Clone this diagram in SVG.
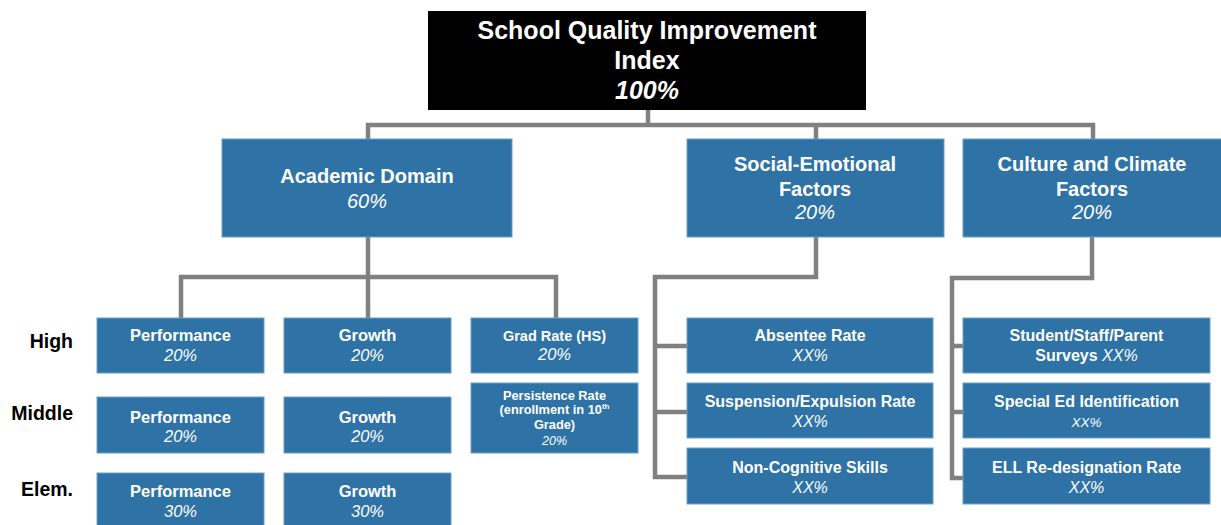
<svg xmlns="http://www.w3.org/2000/svg" width="1221" height="525" viewBox="0 0 1221 525">
<style>
text{font-family:"Liberation Sans",Arial,sans-serif;text-anchor:middle;fill:#fff}
.b{font-weight:bold}
.i{font-style:italic}
.box{fill:#2e72a6;stroke:#6d9fc8;stroke-width:1}
.lbl{fill:#000;font-weight:bold;font-size:19.5px;text-anchor:end}
.conn{fill:none;stroke:#808080;stroke-width:4.5;stroke-linejoin:miter}
</style>
<rect width="1221" height="525" fill="#fff"/>
<g id="connectors">
<path class="conn" d="M648 110V125M368 139V125H1093V139M816 125V139"/>
<path class="conn" d="M368 237V277M181 318V277H556V318M368 277V318"/>
<path class="conn" d="M816 237V277H655V477H687M655 346H687M655 412H687"/>
<path class="conn" d="M1092 237V278H952V478H963M952 346H963M952 412H963"/>
</g>
<g id="root">
<rect x="428" y="11" width="438" height="99" fill="#000"/>
<text x="647" y="39" class="b" font-size="25">School Quality Improvement</text>
<text x="647" y="69" class="b" font-size="25">Index</text>
<text x="647" y="99" class="b i" font-size="25">100%</text>
</g>
<g id="academic">
<rect class="box" x="222" y="139" width="290" height="98"/>
<text x="367" y="183" class="b" font-size="20">Academic Domain</text>
<text x="367" y="208" class="i" font-size="20">60%</text>
</g>
<g id="social">
<rect class="box" x="687" y="139" width="257" height="98"/>
<text x="815" y="171" class="b" font-size="20">Social-Emotional</text>
<text x="815" y="196" class="b" font-size="20">Factors</text>
<text x="815" y="219" class="i" font-size="20">20%</text>
</g>
<g id="culture">
<rect class="box" x="963" y="139" width="262" height="98"/>
<text x="1092" y="171" class="b" font-size="20">Culture and Climate</text>
<text x="1092" y="196" class="b" font-size="20">Factors</text>
<text x="1092" y="219" class="i" font-size="20">20%</text>
</g>
<g id="labels">
<text x="73" y="348" class="lbl">High</text>
<text x="73" y="420" class="lbl">Middle</text>
<text x="73" y="496" class="lbl">Elem.</text>
</g>
<g id="perf-high">
<rect class="box" x="97" y="318" width="167" height="55"/>
<text x="180.5" y="341" class="b" font-size="16.5">Performance</text>
<text x="180.5" y="361" class="i" font-size="16.5">20%</text>
</g>
<g id="growth-high">
<rect class="box" x="284" y="318" width="167" height="55"/>
<text x="367.5" y="341" class="b" font-size="16.5">Growth</text>
<text x="367.5" y="361" class="i" font-size="16.5">20%</text>
</g>
<g id="grad-rate">
<rect class="box" x="471" y="318" width="167" height="55"/>
<text x="554.5" y="341" class="b" font-size="14.5">Grad Rate (HS)</text>
<text x="554.5" y="360" class="i" font-size="16.5">20%</text>
</g>
<g id="perf-middle">
<rect class="box" x="97" y="397" width="167" height="56"/>
<text x="180.5" y="423" class="b" font-size="16.5">Performance</text>
<text x="180.5" y="442" class="i" font-size="16.5">20%</text>
</g>
<g id="growth-middle">
<rect class="box" x="284" y="397" width="167" height="56"/>
<text x="367.5" y="423" class="b" font-size="16.5">Growth</text>
<text x="367.5" y="442" class="i" font-size="16.5">20%</text>
</g>
<g id="persistence">
<rect class="box" x="471" y="383" width="167" height="70"/>
<text x="554.5" y="400" class="b" font-size="12.8">Persistence Rate</text>
<text x="554.5" y="414" class="b" font-size="12.8">(enrollment in 10<tspan font-size="8" dy="-5">th</tspan></text>
<text x="554.5" y="429" class="b" font-size="12.8">Grade)</text>
<text x="554.5" y="445" class="i" font-size="12.5">20%</text>
</g>
<g id="perf-elem">
<rect class="box" x="97" y="473" width="167" height="60"/>
<text x="180.5" y="497" class="b" font-size="16.5">Performance</text>
<text x="180.5" y="517" class="i" font-size="16.5">30%</text>
</g>
<g id="growth-elem">
<rect class="box" x="284" y="473" width="167" height="60"/>
<text x="367.5" y="497" class="b" font-size="16.5">Growth</text>
<text x="367.5" y="517" class="i" font-size="16.5">30%</text>
</g>
<g id="absentee">
<rect class="box" x="687" y="318" width="246" height="55"/>
<text x="810" y="341" class="b" font-size="16">Absentee Rate</text>
<text x="810" y="361" class="i" font-size="16">XX%</text>
</g>
<g id="suspension">
<rect class="box" x="687" y="383" width="246" height="55"/>
<text x="810" y="407" class="b" font-size="16">Suspension/Expulsion Rate</text>
<text x="810" y="427" class="i" font-size="16">XX%</text>
</g>
<g id="noncog">
<rect class="box" x="687" y="448" width="246" height="56"/>
<text x="810" y="473" class="b" font-size="16">Non-Cognitive Skills</text>
<text x="810" y="493" class="i" font-size="16">XX%</text>
</g>
<g id="surveys">
<rect class="box" x="963" y="318" width="247" height="55"/>
<text x="1086.5" y="341" class="b" font-size="16">Student/Staff/Parent</text>
<text x="1086.5" y="361" class="b" font-size="16">Surveys <tspan class="i" font-weight="normal">XX%</tspan></text>
</g>
<g id="special-ed">
<rect class="box" x="963" y="383" width="247" height="55"/>
<text x="1086.5" y="407" class="b" font-size="16">Special Ed Identification</text>
<text x="1086.5" y="427" class="i" font-size="13.5">XX%</text>
</g>
<g id="ell">
<rect class="box" x="963" y="448" width="247" height="56"/>
<text x="1086.5" y="473" class="b" font-size="16">ELL Re-designation Rate</text>
<text x="1086.5" y="493" class="i" font-size="16">XX%</text>
</g>
</svg>
